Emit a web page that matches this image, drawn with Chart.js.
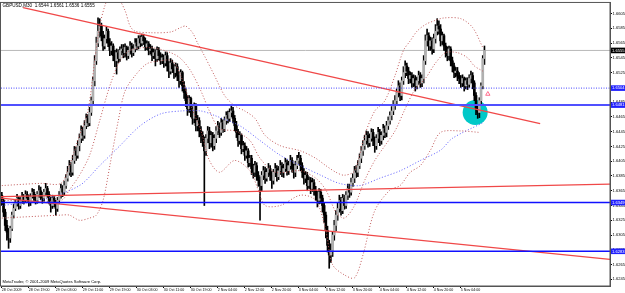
<!DOCTYPE html>
<html><head><meta charset="utf-8">
<script src="https://cdn.jsdelivr.net/npm/chart.js@4.4.0/dist/chart.umd.min.js"></script>
<style>html,body{margin:0;padding:0;background:#fff;overflow:hidden}canvas{display:block}</style>
</head><body>
<canvas id="c" width="625" height="293"></canvas>
<script>
// ---- text ----
const symbolTitle = 'GBPUSD,M30  1.6544 1.6561 1.6536 1.6555';
const copyright = 'MetaTrader, \u00A9 2001-2009 MetaQuotes Software Corp.';
const timeLabels = ['28 Oct 2009','28 Oct 19:00','29 Oct 03:00','29 Oct 11:00','29 Oct 19:00','30 Oct 03:00','30 Oct 11:00','30 Oct 19:00','2 Nov 04:00','2 Nov 12:00','2 Nov 20:00','3 Nov 04:00','3 Nov 12:00','3 Nov 20:00','4 Nov 04:00','4 Nov 12:00','4 Nov 20:00','5 Nov 04:00'];
const barsPerLabel = 16;
const priceTicks = [1.6605,1.6585,1.6565,1.6545,1.6525,1.6505,1.6485,1.6465,1.6445,1.6425,1.6405,1.6385,1.6365,1.6345,1.6325,1.6305,1.6285,1.6265,1.6245];

// ---- M30 bars, prices x 10000 ----
const firstOpen = 16359;
const close = [16352,16336,16318,16309,16301,16314,16332,16341,
16348,16355,16345,16352,16357,16352,16360,16355,
16349,16357,16363,16356,16352,16360,16365,16359,
16355,16363,16368,16360,16352,16345,16355,16348,
16341,16352,16359,16368,16363,16372,16382,16390,
16399,16390,16406,16419,16413,16426,16436,16446,
16440,16453,16463,16457,16471,16487,16514,16541,
16565,16581,16588,16575,16561,16571,16581,16565,
16555,16561,16548,16541,16552,16544,16555,16557,
16552,16559,16548,16555,16561,16552,16557,16565,
16561,16571,16565,16573,16568,16560,16564,16555,
16557,16548,16552,16544,16555,16548,16541,16545,
16538,16548,16534,16527,16538,16530,16525,16533,
16521,16514,16525,16507,16498,16487,16476,16490,
16473,16463,16480,16453,16460,16446,16440,16433,
16419,16436,16446,16430,16440,16426,16436,16446,
16453,16444,16457,16449,16460,16467,16463,16471,
16473,16463,16453,16444,16433,16440,16422,16426,
16413,16419,16403,16409,16395,16390,16399,16386,
16379,16372,16386,16392,16382,16390,16395,16386,
16379,16390,16395,16384,16392,16399,16390,16395,
16403,16392,16399,16406,16395,16390,16399,16406,
16409,16399,16390,16382,16386,16372,16379,16368,
16376,16365,16359,16352,16363,16355,16345,16332,
16311,16291,16278,16284,16305,16318,16332,16341,
16352,16338,16355,16345,16359,16368,16363,16376,
16382,16392,16390,16399,16409,16419,16426,16433,
16440,16430,16436,16444,16433,16426,16436,16444,
16433,16440,16449,16444,16453,16460,16467,16473,
16480,16487,16498,16507,16494,16514,16525,16534,
16527,16517,16521,16511,16517,16507,16514,16521,
16511,16517,16541,16568,16575,16561,16568,16557,
16571,16581,16588,16584,16568,16575,16561,16555,
16548,16557,16541,16534,16525,16527,16521,16517,
16511,16517,16507,16514,16509,16517,16521,16511,
16494,16476,16471,16487,16507,16544,16555];
const high = [16363,16355,16340,16325,16314,16317,16336,16347,
16353,16360,16357,16356,16363,16360,16365,16364,
16359,16361,16368,16367,16360,16364,16372,16370,
16363,16367,16375,16371,16364,16356,16359,16357,
16352,16356,16364,16374,16372,16378,16387,16398,
16406,16403,16413,16425,16424,16433,16442,16453,
16451,16460,16469,16468,16478,16492,16519,16548,
16573,16599,16598,16592,16581,16576,16587,16584,
16571,16567,16564,16555,16557,16556,16560,16563,
16563,16564,16561,16560,16567,16565,16563,16571,
16571,16575,16575,16577,16577,16572,16568,16567,
16563,16561,16557,16556,16560,16559,16552,16550,
16549,16553,16552,16540,16544,16542,16536,16538,
16537,16526,16529,16527,16513,16503,16494,16494,
16492,16479,16484,16483,16467,16464,16452,16445,
16438,16441,16452,16451,16445,16444,16441,16452,
16459,16457,16463,16461,16465,16472,16473,16476,
16480,16478,16467,16459,16448,16445,16442,16432,
16430,16425,16422,16413,16413,16401,16405,16403,
16391,16384,16391,16398,16397,16395,16402,16399,
16391,16394,16402,16399,16398,16406,16403,16401,
16409,16407,16405,16413,16410,16401,16405,16413,
16417,16413,16403,16395,16391,16390,16384,16383,
16382,16380,16371,16364,16368,16367,16359,16349,
16336,16317,16298,16293,16309,16325,16338,16348,
16359,16356,16360,16359,16364,16374,16374,16382,
16388,16398,16399,16406,16415,16425,16433,16440,
16446,16445,16442,16449,16448,16438,16441,16451,
16448,16445,16455,16453,16459,16465,16472,16479,
16487,16494,16503,16514,16511,16519,16533,16541,
16538,16532,16526,16525,16522,16521,16519,16527,
16525,16522,16548,16576,16584,16579,16573,16572,
16577,16590,16598,16595,16590,16580,16577,16565,
16560,16561,16560,16546,16538,16532,16532,16525,
16521,16522,16519,16518,16518,16522,16527,16525,
16514,16498,16482,16491,16511,16548,16561];
const low = [16345,16330,16311,16298,16287,16295,16311,16328,
16338,16344,16340,16341,16348,16347,16349,16351,
16344,16345,16355,16352,16347,16348,16356,16353,
16348,16351,16359,16356,16347,16336,16341,16343,
16332,16337,16348,16355,16357,16359,16368,16378,
16386,16384,16386,16402,16406,16409,16419,16430,
16433,16436,16449,16452,16453,16467,16482,16507,
16536,16560,16573,16568,16555,16557,16565,16560,
16548,16549,16541,16533,16523,16538,16540,16549,
16545,16546,16542,16544,16550,16546,16548,16553,
16556,16557,16560,16561,16563,16555,16556,16549,
16550,16541,16544,16534,16540,16542,16536,16537,
16532,16534,16527,16518,16523,16525,16517,16519,
16514,16505,16509,16500,16490,16479,16467,16471,
16465,16455,16457,16446,16446,16438,16430,16425,
16345,16413,16430,16422,16424,16419,16421,16430,
16441,16437,16440,16444,16445,16455,16457,16459,
16465,16457,16446,16437,16425,16428,16415,16418,
16406,16409,16397,16398,16387,16382,16384,16379,
16371,16325,16365,16380,16375,16378,16384,16379,
16368,16374,16384,16378,16380,16387,16384,16383,
16391,16386,16387,16394,16390,16382,16384,16395,
16401,16392,16383,16374,16376,16365,16368,16361,
16364,16359,16352,16343,16347,16348,16336,16322,
16301,16282,16260,16268,16276,16298,16311,16325,
16336,16332,16334,16340,16341,16353,16356,16359,
16371,16376,16383,16384,16395,16403,16413,16421,
16428,16424,16425,16432,16426,16417,16421,16430,
16426,16428,16434,16437,16438,16448,16455,16461,
16468,16475,16482,16492,16487,16488,16509,16518,
16521,16510,16511,16505,16506,16500,16503,16509,
16505,16506,16511,16536,16561,16555,16555,16550,
16552,16565,16576,16577,16561,16563,16555,16546,
16541,16542,16534,16526,16518,16519,16514,16510,
16505,16506,16500,16503,16502,16505,16511,16503,
16487,16468,16463,16464,16482,16503,16536];

// ---- indicators, [bar index, price x 10000] ----
const bbUpper = [[0,16372],[23,16375],[35,16375],[40,16399],[46,16440],[51,16473],[55,16541],[58,16588],[61,16615],[64,16629],[69,16625],[73,16609],[76,16588],[79,16581],[88,16579],[100,16580],[106,16586],[109,16588],[113,16579],[116,16565],[120,16548],[126,16521],[132,16494],[138,16480],[144,16473],[150,16463],[156,16440],[165,16426],[177,16419],[186,16409],[192,16399],[198,16390],[203,16386],[209,16392],[215,16440],[221,16473],[227,16487],[233,16521],[238,16555],[242,16568],[246,16581],[251,16590],[256,16595],[262,16599],[272,16598],[279,16586],[285,16559]];
const bbMiddle = [[0,16352],[35,16352],[40,16366],[46,16386],[52,16413],[58,16460],[64,16507],[70,16541],[76,16555],[88,16559],[100,16552],[106,16544],[112,16527],[118,16500],[123,16473],[129,16449],[138,16446],[147,16433],[153,16409],[162,16390],[177,16392],[186,16382],[192,16366],[198,16336],[203,16328],[209,16345],[215,16379],[221,16406],[227,16426],[233,16446],[239,16476],[245,16503],[251,16517],[257,16538],[263,16552],[270,16552],[276,16545],[280,16534],[285,16527]];
const bbLower = [[0,16328],[35,16332],[40,16332],[46,16325],[52,16328],[56,16332],[60,16352],[64,16399],[69,16460],[73,16500],[79,16521],[86,16537],[94,16541],[101,16541],[106,16521],[112,16480],[118,16446],[123,16406],[129,16390],[138,16406],[147,16392],[152,16366],[156,16345],[165,16345],[177,16359],[186,16352],[192,16311],[196,16265],[203,16251],[209,16247],[214,16278],[221,16338],[230,16366],[236,16372],[242,16390],[248,16399],[254,16420],[260,16444],[272,16446],[283,16444]];
const maBlue = [[0,16345],[23,16352],[46,16372],[58,16399],[70,16426],[82,16453],[94,16469],[106,16473],[118,16473],[126,16467],[141,16453],[153,16433],[165,16413],[177,16399],[189,16386],[200,16375],[212,16372],[224,16382],[236,16392],[248,16406],[260,16420],[267,16436],[285,16457]];
const trendUpper = [[12.6,16613],[319,16456]];
const trendRising = [[-0.5,16357],[360.4,16374]];
const trendFalling = [[-0.5,16355],[360.4,16272]];
const bidPrice = 16555;
const levelDotted = 16504;
const levelsSolid = [16481, 16349, 16283];
const ellipseCenter = [280.5, 16471];
const arrowMark = [288, 16496];

// ---- build ----
const K = 10000;
const xMin = -0.5, xMax = 360.4;
const bars = close.map((c, i) => ({ i, o: i ? close[i-1] : firstOpen, c, h: high[i], l: low[i] }));
const pts = arr => arr.map(p => ({ x: p[0], y: p[1] / K }));
const hline = v => [{ x: xMin, y: v / K }, { x: xMax, y: v / K }];
const lineDs = (data, color, width, dash, order, tension) => ({
  type: 'line', data, borderColor: color, borderWidth: width, borderDash: dash || [],
  pointRadius: 0, fill: false, tension: tension || 0, order, clip: 0
});

Chart.defaults.font.family = '"Liberation Sans", Arial, sans-serif';

const decor = {
  id: 'decor',
  afterDraw(chart) {
    const { ctx, chartArea: a, scales: { y } } = chart;
    ctx.save();
    ctx.strokeStyle = '#555'; ctx.lineWidth = 1;
    ctx.strokeRect(a.left - 0.5, a.top - 0.5, a.right - a.left + 0.5, a.bottom - a.top + 0.5);
    ctx.fillStyle = '#000'; ctx.textBaseline = 'middle'; ctx.textAlign = 'left';
    ctx.font = '4.6px "Liberation Sans", Arial';
    ctx.fillText(symbolTitle, a.left + 1.5, a.top + 3);
    ctx.font = '4.1px "Liberation Sans", Arial';
    ctx.fillText(copyright, a.left + 1.5, a.bottom - 4.5);
    const box = (v, bg) => {
      const py = y.getPixelForValue(v / K);
      ctx.fillStyle = bg; ctx.fillRect(a.right + 1, py - 2.8, 14, 5.6);
      ctx.fillStyle = '#fff'; ctx.font = '4.1px "Liberation Sans", Arial';
      ctx.fillText((v / K).toFixed(4), a.right + 2, py + 0.2);
    };
    box(levelDotted, '#2020ff');
    levelsSolid.forEach(v => box(v, '#2020ff'));
    box(bidPrice, '#000');
    ctx.restore();
  }
};

new Chart(document.getElementById('c'), {
  type: 'bar',
  data: {
    datasets: [
      { type: 'bubble', data: [{ x: ellipseCenter[0], y: ellipseCenter[1] / K }], radius: 12.5,
        backgroundColor: '#00c8c8', borderColor: '#00c8c8', borderWidth: 0, order: 100, clip: 0 },
      lineDs(hline(bidPrice), '#b8b8b8', 1, [], 90),
      { type: 'bar', data: bars.map(b => ({ x: b.i, y: [b.l / K, b.h / K] })), backgroundColor: '#000',
        barThickness: 1, grouped: false, order: 21, clip: 0 },
      { type: 'bar', data: bars.map(b => ({ x: b.i, y: [b.o / K, b.c / K] })),
        backgroundColor: bars.map(b => b.c >= b.o ? '#b0b0b0' : '#000'),
        barThickness: 2, grouped: false, minBarLength: 1, order: 20, clip: 0 },
      lineDs(pts(bbUpper), '#c05858', 1, [1, 2], 10, 0.3),
      lineDs(pts(bbMiddle), '#c05858', 1, [1, 2], 10, 0.3),
      lineDs(pts(bbLower), '#c05858', 1, [1, 2], 10, 0.3),
      lineDs(pts(maBlue), '#5a5aff', 1, [1, 2], 10, 0.3),
      lineDs(pts(trendUpper), '#f04848', 1.3, [], 5),
      lineDs(pts(trendRising), '#f04848', 1.2, [], 5),
      lineDs(pts(trendFalling), '#f04848', 1.2, [], 5),
      lineDs(hline(levelDotted), '#4848ff', 1, [1, 1.5], 4),
      lineDs(hline(levelsSolid[0]), '#5050ff', 2, [], 4),
      lineDs(hline(levelsSolid[1]), '#1010ff', 1.5, [], 4),
      lineDs(hline(levelsSolid[2]), '#1010ff', 1.5, [], 4),
      { type: 'scatter', data: [{ x: arrowMark[0], y: arrowMark[1] / K }], pointStyle: 'triangle',
        pointRadius: 2.5, borderColor: '#ff6a8a', backgroundColor: 'rgba(255,255,255,0)', borderWidth: 1, order: 3, clip: 0 }
    ]
  },
  options: {
    responsive: false, animation: false, devicePixelRatio: 1, events: [],
    layout: { autoPadding: false, padding: { left: 1, top: 2, right: 0, bottom: 0 } },
    plugins: { legend: { display: false }, tooltip: { enabled: false }, title: { display: false } },
    scales: {
      x: {
        type: 'linear', min: xMin, max: xMax, offset: false,
        afterBuildTicks: s => { s.ticks = timeLabels.map((t, k) => ({ value: k * barsPerLabel })); },
        afterFit: s => { s.height = 7; },
        ticks: { autoSkip: false, maxRotation: 0, align: 'start', padding: 0, color: '#000',
          font: { size: 3.6 }, callback: v => timeLabels[Math.round(v / barsPerLabel)] },
        grid: { drawOnChartArea: false, tickLength: 2, color: '#000', offset: false },
        border: { display: true, color: '#555' }
      },
      y: {
        type: 'linear', position: 'right', min: 1.6236, max: 1.66193, beginAtZero: false,
        afterBuildTicks: s => { s.ticks = priceTicks.map(v => ({ value: v })); },
        afterFit: s => { s.width = 15; },
        ticks: { padding: 0.5, color: '#000', crossAlign: 'near', font: { size: 4.1 },
          callback: v => v.toFixed(4) },
        grid: { drawOnChartArea: false, tickLength: 2, color: '#000' },
        border: { display: true, color: '#555' }
      }
    }
  },
  plugins: [decor]
});
</script>
</body></html>
